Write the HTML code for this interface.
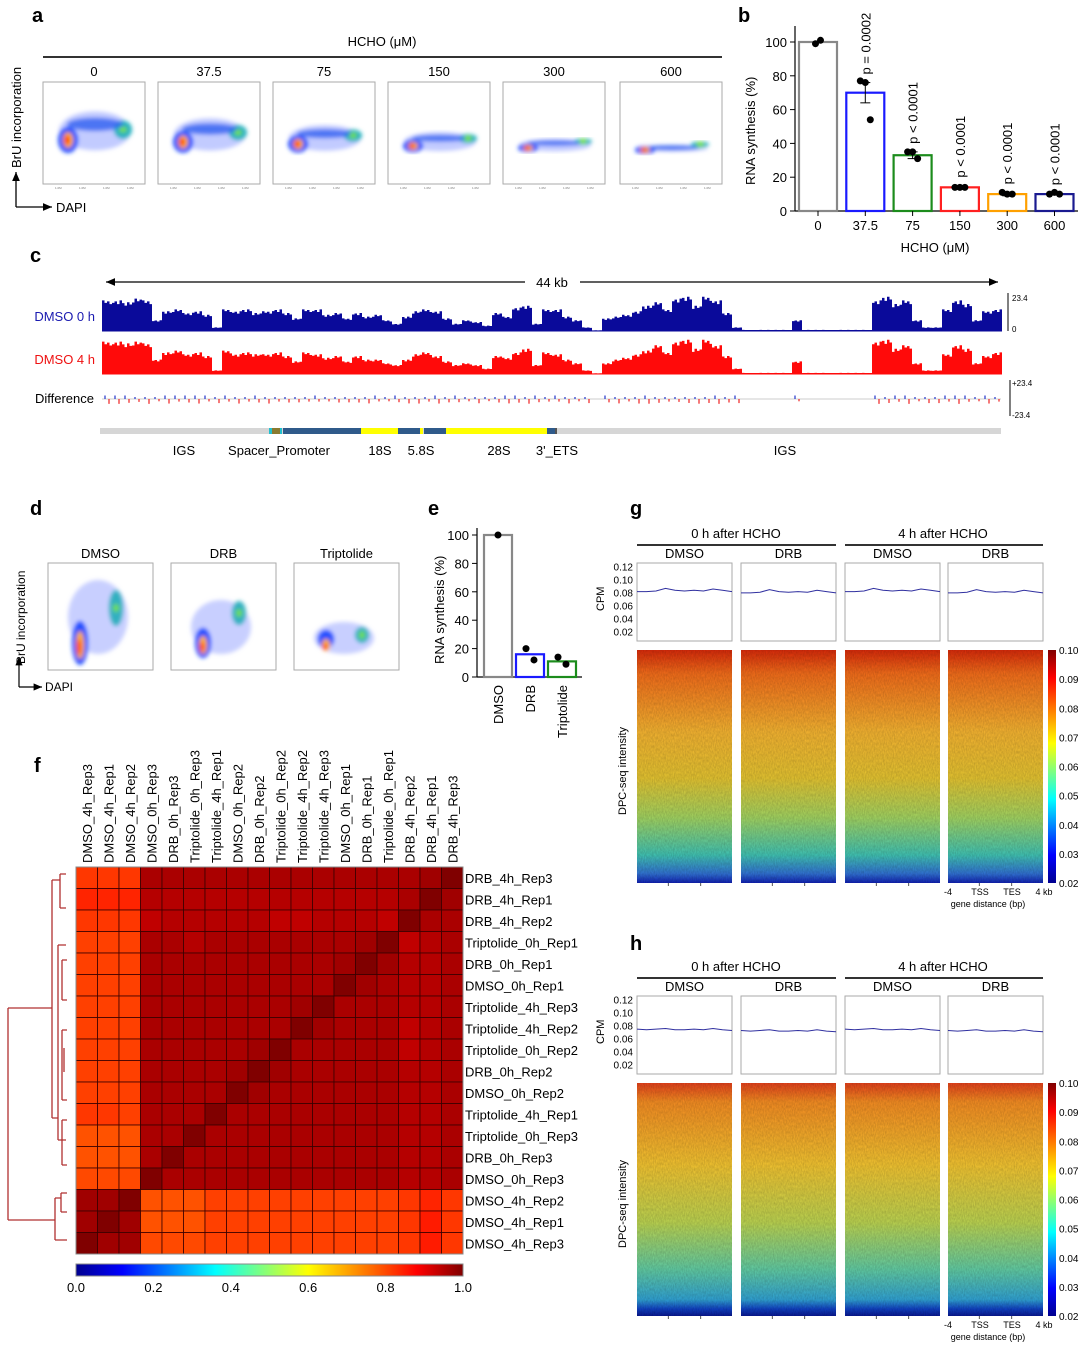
<!DOCTYPE html>
<html><head><meta charset="utf-8"><style>
body{margin:0;background:#fff;}
svg{display:block;font-family:"Liberation Sans",Arial,sans-serif;}
</style></head><body>
<svg id="fig" width="1080" height="1346" viewBox="0 0 1080 1346" xmlns="http://www.w3.org/2000/svg">
<defs>
<linearGradient id="jetH" x1="0" x2="1" y1="0" y2="0">
<stop offset="0" stop-color="#00008f"/><stop offset="0.12" stop-color="#0000ff"/><stop offset="0.36" stop-color="#00ffff"/><stop offset="0.6" stop-color="#ffff00"/><stop offset="0.88" stop-color="#ff0000"/><stop offset="1" stop-color="#800000"/>
</linearGradient>
<linearGradient id="jetV" x1="0" x2="0" y1="1" y2="0">
<stop offset="0" stop-color="#00008f"/><stop offset="0.12" stop-color="#0000ff"/><stop offset="0.36" stop-color="#00ffff"/><stop offset="0.6" stop-color="#ffff00"/><stop offset="0.88" stop-color="#ff0000"/><stop offset="1" stop-color="#800000"/>
</linearGradient>
<linearGradient id="hmG" x1="0" x2="0" y1="0" y2="1">
<stop offset="0" stop-color="#d42a0a"/><stop offset="0.1" stop-color="#ee6a1a"/><stop offset="0.35" stop-color="#f0b030"/><stop offset="0.55" stop-color="#e0c030"/><stop offset="0.72" stop-color="#9fd060"/><stop offset="0.88" stop-color="#40c0b0"/><stop offset="0.96" stop-color="#3070d0"/><stop offset="1" stop-color="#1020b0"/>
</linearGradient>
<linearGradient id="hmH" x1="0" x2="0" y1="0" y2="1">
<stop offset="0" stop-color="#e0401a"/><stop offset="0.08" stop-color="#f08a22"/><stop offset="0.35" stop-color="#eec030"/><stop offset="0.6" stop-color="#b8d050"/><stop offset="0.8" stop-color="#60c8a0"/><stop offset="0.93" stop-color="#30a0d0"/><stop offset="0.97" stop-color="#1040c0"/><stop offset="1" stop-color="#0a1890"/>
</linearGradient>
<filter id="noise" x="0" y="0" width="100%" height="100%">
<feTurbulence type="fractalNoise" baseFrequency="0.9 0.35" numOctaves="2" seed="3"/>
<feColorMatrix type="matrix" values="0 0 0 0 0  0 0 0 0 0  0 0 0 0 0  0 0 0 0.5 -0.1"/>
<feComposite operator="in" in2="SourceGraphic"/>
</filter>
<filter id="blur2"><feGaussianBlur stdDeviation="2.2"/></filter>
<marker id="arr" markerWidth="8" markerHeight="8" refX="7" refY="4" orient="auto"><path d="M0,1 L7,4 L0,7 z" fill="#000"/></marker>
<marker id="arrL" markerWidth="8" markerHeight="8" refX="1" refY="4" orient="auto"><path d="M8,1 L1,4 L8,7 z" fill="#000"/></marker>
</defs>
<g id="root"></g>
</svg>
<script>
// ---------- data ----------
const concA=["0","37.5","75","150","300","600"];
const synthB=[100,70,33,14,10,10];
const errB=[0,6,2,1,1,0.5];
const dotsB=[[99,101],[77,76,54],[35,35,31],[14,14,14],[11,10,10],[10,11,10]];
const pvalB=["","p = 0.0002","p < 0.0001","p < 0.0001","p < 0.0001","p < 0.0001"];
const colorsB=["#888","#1a1aff","#1c8c1c","#ff2020","#ffa000","#1a1a90"];
const bTicks=[0,20,40,60,80,100];
const covBlue=[0.85,0.85,0.8,0.9,0.85,0.3,0.55,0.6,0.5,0.55,0.45,0.1,0.6,0.55,0.6,0.5,0.55,0.6,0.5,0.35,0.6,0.6,0.45,0.5,0.35,0.5,0.4,0.45,0.3,0.2,0.4,0.55,0.6,0.55,0.35,0.2,0.3,0.25,0.15,0.5,0.4,0.65,0.7,0.2,0.6,0.6,0.4,0.3,0.1,0.02,0.35,0.4,0.45,0.55,0.7,0.8,0.6,0.9,0.95,0.7,0.95,0.85,0.5,0.1,0.03,0.03,0.03,0.03,0.03,0.3,0.03,0.03,0.03,0.03,0.03,0.03,0.03,0.85,0.95,0.75,0.85,0.3,0.1,0.1,0.6,0.85,0.75,0.3,0.55,0.6];
const covRed=[0.9,0.9,0.85,0.9,0.85,0.4,0.6,0.65,0.55,0.6,0.5,0.1,0.65,0.55,0.6,0.55,0.55,0.6,0.5,0.35,0.6,0.55,0.45,0.5,0.35,0.5,0.4,0.4,0.3,0.25,0.4,0.55,0.6,0.5,0.35,0.25,0.3,0.25,0.15,0.5,0.45,0.6,0.7,0.25,0.6,0.55,0.4,0.3,0.1,0.02,0.3,0.4,0.45,0.55,0.65,0.8,0.6,0.9,0.95,0.7,0.95,0.8,0.5,0.15,0.03,0.03,0.03,0.03,0.03,0.35,0.03,0.03,0.03,0.03,0.03,0.03,0.03,0.9,0.95,0.7,0.8,0.3,0.1,0.1,0.55,0.8,0.7,0.3,0.5,0.6];
const genes=[["IGS",184],["Spacer_Promoter",279],["18S",380],["5.8S",421],["28S",499],["3'_ETS",557],["IGS",785]];
const condD=["DMSO","DRB","Triptolide"];
const synthE=[100,16,11];
const dotsE=[[100],[20,12],[14,9]];
const colorsE=["#888","#1a1aff","#1c8c1c"];
const labelsF=["DMSO_4h_Rep3","DMSO_4h_Rep1","DMSO_4h_Rep2","DMSO_0h_Rep3","DRB_0h_Rep3","Triptolide_0h_Rep3","Triptolide_4h_Rep1","DMSO_0h_Rep2","DRB_0h_Rep2","Triptolide_0h_Rep2","Triptolide_4h_Rep2","Triptolide_4h_Rep3","DMSO_0h_Rep1","DRB_0h_Rep1","Triptolide_0h_Rep1","DRB_4h_Rep2","DRB_4h_Rep1","DRB_4h_Rep3"];
// correlation rows (row i = labelsF[17-i] from top), columns in labelsF order
const corrRows=[
[0.82,0.82,0.82,0.96,0.96,0.96,0.96,0.96,0.96,0.96,0.96,0.96,0.96,0.96,0.96,0.96,0.97,1.0],
[0.84,0.84,0.84,0.95,0.95,0.95,0.95,0.95,0.95,0.95,0.95,0.95,0.95,0.95,0.95,0.96,1.0,0.97],
[0.82,0.82,0.82,0.94,0.95,0.95,0.95,0.95,0.95,0.94,0.94,0.95,0.95,0.95,0.94,1.0,0.96,0.96],
[0.81,0.81,0.81,0.96,0.96,0.95,0.96,0.96,0.96,0.96,0.96,0.96,0.96,0.97,1.0,0.94,0.95,0.96],
[0.81,0.81,0.81,0.96,0.96,0.96,0.96,0.96,0.96,0.96,0.96,0.96,0.97,1.0,0.97,0.95,0.95,0.96],
[0.81,0.81,0.81,0.96,0.96,0.96,0.96,0.96,0.96,0.96,0.96,0.96,1.0,0.97,0.96,0.95,0.95,0.96],
[0.81,0.81,0.81,0.96,0.96,0.96,0.96,0.96,0.96,0.96,0.97,1.0,0.96,0.96,0.96,0.95,0.95,0.96],
[0.81,0.81,0.81,0.96,0.96,0.96,0.96,0.96,0.96,0.96,1.0,0.97,0.96,0.96,0.96,0.94,0.95,0.96],
[0.81,0.81,0.81,0.96,0.96,0.96,0.96,0.96,0.97,1.0,0.96,0.96,0.96,0.96,0.96,0.94,0.95,0.96],
[0.81,0.81,0.81,0.96,0.96,0.96,0.96,0.97,1.0,0.97,0.96,0.96,0.96,0.96,0.96,0.95,0.95,0.96],
[0.81,0.81,0.81,0.96,0.96,0.96,0.96,1.0,0.97,0.96,0.96,0.96,0.96,0.96,0.96,0.95,0.95,0.96],
[0.82,0.82,0.81,0.96,0.96,0.96,1.0,0.96,0.96,0.96,0.96,0.96,0.96,0.96,0.96,0.95,0.95,0.96],
[0.79,0.79,0.79,0.96,0.96,1.0,0.96,0.96,0.96,0.96,0.96,0.96,0.96,0.96,0.96,0.95,0.95,0.96],
[0.79,0.79,0.79,0.96,1.0,0.96,0.96,0.96,0.96,0.96,0.96,0.96,0.96,0.96,0.96,0.95,0.95,0.96],
[0.80,0.80,0.80,1.0,0.96,0.96,0.96,0.96,0.96,0.96,0.96,0.96,0.96,0.96,0.96,0.95,0.95,0.96],
[0.97,0.97,1.0,0.79,0.79,0.79,0.81,0.81,0.81,0.81,0.81,0.81,0.81,0.81,0.81,0.82,0.84,0.82],
[0.97,1.0,0.97,0.79,0.79,0.79,0.81,0.81,0.81,0.81,0.81,0.81,0.81,0.81,0.81,0.82,0.85,0.82],
[1.0,0.97,0.97,0.80,0.80,0.80,0.81,0.81,0.81,0.81,0.81,0.81,0.81,0.81,0.81,0.82,0.85,0.82]];
const cbTicks=[0.0,0.2,0.4,0.6,0.8,1.0];
const cpmTicks=[0.12,0.10,0.08,0.06,0.04,0.02];
const profG=[0.081,0.081,0.082,0.086,0.083,0.082,0.083,0.082,0.085,0.083,0.081];
const profH=[0.074,0.073,0.074,0.075,0.073,0.073,0.074,0.073,0.075,0.073,0.072];
const hmTicks=[0.10,0.09,0.08,0.07,0.06,0.05,0.04,0.03,0.02];

// ---------- helpers ----------
const NS="http://www.w3.org/2000/svg";
const root=document.getElementById('root');
function E(tag,attrs,parent,txt){const e=document.createElementNS(NS,tag);for(const k in attrs)e.setAttribute(k,attrs[k]);if(txt!==undefined)e.textContent=txt;(parent||root).appendChild(e);return e;}
function T(x,y,s,size,extra,parent){const a=Object.assign({x:x,y:y,'font-size':size,fill:'#000'},extra||{});return E('text',a,parent,s);}
function jet(v){const st=[[0,[0,0,143]],[0.12,[0,0,255]],[0.36,[0,255,255]],[0.6,[255,255,0]],[0.88,[255,0,0]],[1,[128,0,0]]];for(let i=1;i<st.length;i++){if(v<=st[i][0]){const t=(v-st[i-1][0])/(st[i][0]-st[i-1][0]);const a=st[i-1][1],b=st[i][1];return `rgb(${Math.round(a[0]+(b[0]-a[0])*t)},${Math.round(a[1]+(b[1]-a[1])*t)},${Math.round(a[2]+(b[2]-a[2])*t)})`;}}return 'rgb(128,0,0)';}

// panel letters
[["a",32,22],["b",738,22],["c",30,262],["d",30,515],["e",428,515],["f",34,772],["g",630,515],["h",630,950]].forEach(p=>{
 const t=T(p[1],p[2],p[0],20,{'font-weight':'bold'});
 
 
});

// ---------- panel a ----------
const gA=E('g',{});  
T(382,46,"HCHO (μM)",13,{'text-anchor':'middle'},gA);
E('line',{x1:43,y1:57,x2:722,y2:57,stroke:'#333','stroke-width':2},gA);
const boxA=[43,158,273,388,503,620];
concA.forEach((c,i)=>{
 const x=boxA[i],w=102,y=82,h=102;
 T(x+w/2,76,c,13,{'text-anchor':'middle'},gA);
 const g=E('g',{},gA);  
 E('rect',{x:x,y:y,width:w,height:h,fill:'#fff',stroke:'#aaa','stroke-width':1},g);
 const f=i/5; const cy=y+58+f*10; const spread=(1-f)*22+4;
 const bl=E('g',{filter:'url(#blur2)'},g);
 E('ellipse',{cx:x+52,cy:cy-spread*0.35,rx:36,ry:spread*0.75,fill:'#9aa8ff',opacity:0.6},bl);
 E('ellipse',{cx:x+25,cy:cy,rx:10,ry:Math.max(4,spread*0.5),fill:'#2050ff'},bl);
 E('ellipse',{cx:x+80,cy:cy-spread*0.4-4*f,rx:9,ry:Math.max(3,spread*0.35),fill:'#20b0c0'},bl);
 E('ellipse',{cx:x+52,cy:cy-spread*0.6,rx:28,ry:Math.max(2.5,spread*0.25),fill:'#3060f0',opacity:0.8},bl);
 E('ellipse',{cx:x+25,cy:cy,rx:5,ry:Math.max(3,spread*0.3),fill:'#ffb000'},bl);
 E('ellipse',{cx:x+24,cy:cy,rx:2.5,ry:Math.max(2,spread*0.18),fill:'#ff2000'},bl);
 E('ellipse',{cx:x+80,cy:cy-spread*0.4-4*f,rx:4,ry:3,fill:'#70e040'},bl);
 for(let k=0;k<4;k++)T(x+12+k*24,y+h+5,"1.0M",3,{fill:'#777'},g);
});
E('line',{x1:16,y1:207,x2:16,y2:172,stroke:'#000','stroke-width':1.3,'marker-end':'url(#arr)'},gA);
E('line',{x1:16,y1:207,x2:52,y2:207,stroke:'#000','stroke-width':1.3,'marker-end':'url(#arr)'},gA);
T(56,212,"DAPI",13,{},gA);
T(0,0,"BrU incorporation",13,{transform:'translate(21,168) rotate(-90)'},gA);

// ---------- panel b ----------
const gB=E('g',{});  
const bx0=795,by0=211,by100=42;
const byS=v=>by0-(by0-by100)*v/100;
const bxC=i=>818+i*47.3;
E('line',{x1:bx0,y1:26,x2:bx0,y2:by0,stroke:'#000','stroke-width':1.2},gB);
E('line',{x1:bx0,y1:by0,x2:1078,y2:by0,stroke:'#000','stroke-width':1.2},gB);
bTicks.forEach(t=>{E('line',{x1:bx0-5,y1:byS(t),x2:bx0,y2:byS(t),stroke:'#000'},gB);T(bx0-8,byS(t)+5,String(t),13,{'text-anchor':'end'},gB);});
T(0,0,"RNA synthesis (%)",13,{transform:'translate(755,185) rotate(-90)'},gB);
concA.forEach((c,i)=>{
 const cx=bxC(i);
 const r=E('rect',{x:cx-19,y:byS(synthB[i]),width:38,height:by0-byS(synthB[i]),fill:'#fff',stroke:colorsB[i],'stroke-width':2.2},gB);
  
 if(errB[i]>0){E('line',{x1:cx,y1:byS(synthB[i]+errB[i]),x2:cx,y2:byS(synthB[i]-errB[i]),stroke:'#000'},gB);
  E('line',{x1:cx-5,y1:byS(synthB[i]+errB[i]),x2:cx+5,y2:byS(synthB[i]+errB[i]),stroke:'#000'},gB);
  E('line',{x1:cx-5,y1:byS(synthB[i]-errB[i]),x2:cx+5,y2:byS(synthB[i]-errB[i]),stroke:'#000'},gB);}
 dotsB[i].forEach((d,k)=>E('circle',{cx:cx+(k-(dotsB[i].length-1)/2)*5,cy:byS(d),r:3.5,fill:'#000'},gB));
 E('line',{x1:cx,y1:by0,x2:cx,y2:by0+5,stroke:'#000'},gB);
 T(cx,by0+19,c,13,{'text-anchor':'middle'},gB);
 if(pvalB[i])T(0,0,pvalB[i],13,{transform:`translate(${cx+5},${byS(synthB[i]+errB[i])-8}) rotate(-90)`},gB);
});
T(935,252,"HCHO (μM)",13,{'text-anchor':'middle'},gB);

// ---------- panel c ----------
const gC=E('g',{});  
E('line',{x1:106,y1:282,x2:525,y2:282,stroke:'#000','stroke-width':1.3,'marker-start':'url(#arrL)'},gC);
E('line',{x1:580,y1:282,x2:998,y2:282,stroke:'#000','stroke-width':1.3,'marker-end':'url(#arr)'},gC);
T(552,287,"44 kb",13,{'text-anchor':'middle'},gC);
const cx0=102,cW=900/covBlue.length;
function track(data,base,h,col,name){
 let d=`M${cx0},${base}`;
 data.forEach((v,i)=>{const x=cx0+i*cW;const hh=v*h;const wig=[1,0.92,0.97,0.88];
  for(let k=0;k<4;k++){d+=` L${x+k*cW/4},${base-hh*wig[(i+k)%4]} L${x+(k+1)*cW/4},${base-hh*wig[(i+k)%4]}`;}});
 d+=` L${cx0+900},${base} Z`;
 const p=E('path',{d:d,fill:col},gC);  
 E('line',{x1:cx0,y1:base,x2:cx0+900,y2:base,stroke:col,'stroke-width':1},gC);
}
track(covBlue,331,36,'#0a0a9a','track-dmso-0h');
track(covRed,374,36,'#ff0a0a','track-dmso-4h');
T(95,321,"DMSO 0 h",13,{'text-anchor':'end',fill:'#1a1ab0'},gC);
T(95,364,"DMSO 4 h",13,{'text-anchor':'end',fill:'#ee1111'},gC);
T(94,403,"Difference",13,{'text-anchor':'end'},gC);
E('line',{x1:1008,y1:293,x2:1008,y2:331,stroke:'#000'},gC);
T(1012,301,"23.4",8,{},gC);T(1012,332,"0",8,{},gC);
E('line',{x1:102,y1:399,x2:1001,y2:399,stroke:'#ccc','stroke-width':1},gC);
covBlue.forEach((v,i)=>{const dv=covRed[i]-v;const x=cx0+i*cW+cW/2;
 if(v>0.05){E('line',{x1:x-2,y1:399,x2:x-2,y2:397-3*Math.abs(dv*10%1),stroke:'#2233cc','stroke-width':1.2},gC);
 E('line',{x1:x+2,y1:399,x2:x+2,y2:401+3*Math.abs(v*7%1),stroke:'#ee2222','stroke-width':1.2},gC);}});
E('line',{x1:1010,y1:380,x2:1010,y2:416,stroke:'#000'},gC);
T(1012,386,"+23.4",8,{},gC);T(1012,418,"-23.4",8,{},gC);
E('rect',{x:100,y:428,width:901,height:6,fill:'#d6d6d6'},gC);
[[269,4,'#20c0d0'],[272,8,'#8a7a30'],[280,2,'#20c0d0'],[283,78,'#2f5a8a'],[361,37,'#ffff00'],[398,23,'#2f5a8a'],[420,3,'#ffff00'],[424,22,'#2f5a8a'],[446,101,'#ffff00'],[547,8,'#2f5a8a'],[555,2,'#555']].forEach(s=>E('rect',{x:s[0],y:428,width:s[1],height:6,fill:s[2]},gC));
genes.forEach(g=>{const t=T(g[1],455,g[0],13,{'text-anchor':'middle'},gC);});

// ---------- panel d ----------
const gD=E('g',{});  
const boxD=[48,171,294];
condD.forEach((c,i)=>{
 const x=boxD[i],y=563,w=105,h=107;
 T(x+w/2,558,c,13,{'text-anchor':'middle'},gD);
 const g=E('g',{},gD);  
 E('rect',{x:x,y:y,width:w,height:h,fill:'#fff',stroke:'#aaa'},g);
 const bl=E('g',{filter:'url(#blur2)'},g);
 const top=[y+18,y+38,y+60][i];
 E('ellipse',{cx:x+50,cy:(top+y+90)/2,rx:30,ry:(y+92-top)/2,fill:'#9aa8ff',opacity:0.55},bl);
 E('ellipse',{cx:x+32,cy:y+80-(i==2?4:0),rx:8,ry:[22,15,9][i],fill:'#2050ff'},bl);
 E('ellipse',{cx:x+68,cy:[y+45,y+50,y+72][i],rx:7,ry:[18,12,8][i],fill:'#30b0c0'},bl);
 E('ellipse',{cx:x+32,cy:y+82,rx:4,ry:[14,9,6][i],fill:'#ffb000'},bl);
 E('ellipse',{cx:x+31,cy:y+84,rx:2,ry:[8,5,3][i],fill:'#ff2000'},bl);
 E('ellipse',{cx:x+68,cy:[y+45,y+50,y+72][i],rx:3,ry:4,fill:'#70e040'},bl);
});
E('line',{x1:19,y1:687,x2:19,y2:657,stroke:'#000','stroke-width':1.2,'marker-end':'url(#arr)'},gD);
E('line',{x1:19,y1:687,x2:42,y2:687,stroke:'#000','stroke-width':1.2,'marker-end':'url(#arr)'},gD);
T(45,691,"DAPI",12,{},gD);
T(0,0,"BrU incorporation",12,{transform:'translate(25,664) rotate(-90)'},gD);

// ---------- panel e ----------
const gE=E('g',{});  
const ex0=477,ey0=677,ey100=535;const eyS=v=>ey0-(ey0-ey100)*v/100;const exC=i=>498+i*32;
E('line',{x1:ex0,y1:528,x2:ex0,y2:ey0,stroke:'#000','stroke-width':1.2},gE);
E('line',{x1:ex0,y1:ey0,x2:582,y2:ey0,stroke:'#000','stroke-width':1.2},gE);
bTicks.forEach(t=>{E('line',{x1:ex0-5,y1:eyS(t),x2:ex0,y2:eyS(t),stroke:'#000'},gE);T(ex0-8,eyS(t)+5,String(t),13,{'text-anchor':'end'},gE);});
T(0,0,"RNA synthesis (%)",13,{transform:'translate(444,664) rotate(-90)'},gE);
condD.forEach((c,i)=>{const cx=exC(i);
 const r=E('rect',{x:cx-14,y:eyS(synthE[i]),width:28,height:ey0-eyS(synthE[i]),fill:'#fff',stroke:colorsE[i],'stroke-width':2.2},gE);
  
 dotsE[i].forEach((d,k)=>E('circle',{cx:cx+(k-(dotsE[i].length-1)/2)*8,cy:eyS(d),r:3.5,fill:'#000'},gE));
 T(0,0,c,13,{'text-anchor':'end',transform:`translate(${cx+5},${ey0+8}) rotate(-90)`},gE);});

// ---------- panel f ----------
const gF=E('g',{});  
const fx0=76,fy0=867,fS=387/18;
corrRows.forEach((row,r)=>row.forEach((v,c)=>{
 const cell=E('rect',{x:fx0+c*fS,y:fy0+r*fS,width:fS,height:fS,fill:jet(v),stroke:'#3a0000','stroke-width':0.8},gF);
  
}));
E('rect',{x:fx0,y:fy0,width:387,height:387,fill:'none',stroke:'#888'},gF);
labelsF.forEach((l,i)=>{
 T(0,0,l,13,{transform:`translate(${fx0+i*fS+fS/2+5},${fy0-4}) rotate(-90)`},gF);
 T(fx0+389,fy0+i*fS+fS/2+5,labelsF[17-i],13,{},gF);
});
const dg=E('path',{d:'M8,1008 L8,1220 M8,1008 L52,1008 M8,1220 L55,1220 M52,880 L52,1118 M52,880 L60,880 M60,874 L60,908 M60,874 L66,874 M60,908 L66,908 M52,1118 L58,1118 M58,945 L58,1140 M58,945 L66,945 M58,1140 L66,1140 M55,1198 L55,1240 M55,1198 L61,1198 M61,1193 L61,1212 M61,1193 L67,1193 M61,1212 L67,1212 M55,1240 L67,1240 M62,960 L62,1000 M62,1030 L62,1100 M62,1120 L62,1165 M62,960 L67,960 M62,1000 L67,1000 M62,1030 L67,1030 M62,1100 L67,1100 M62,1120 L67,1120 M62,1165 L67,1165 M64,1048 L64,1072',fill:'none',stroke:'#b03030','stroke-width':1.3},gF);
 
const cb=E('rect',{x:76,y:1264,width:387,height:12,fill:'url(#jetH)',stroke:'#888'},gF);
 
cbTicks.forEach(t=>T(76+387*t,1292,t.toFixed(1),13,{'text-anchor':'middle'},gF));

// ---------- panels g & h ----------
function metaPanel(yTop,prof,grad,key){
 const g=E('g',{});  
 const xs=[637,741,845,948],w=95;
 T(736,yTop+5,"0 h after HCHO",13,{'text-anchor':'middle'},g);
 T(943,yTop+5,"4 h after HCHO",13,{'text-anchor':'middle'},g);
 E('line',{x1:637,y1:yTop+12,x2:836,y2:yTop+12,stroke:'#333','stroke-width':2},g);
 E('line',{x1:845,y1:yTop+12,x2:1043,y2:yTop+12,stroke:'#333','stroke-width':2},g);
 const pT=yTop+30,pH=78,hT=yTop+117,hH=233;
 const cy=v=>pT+ (0.125-v)/0.12*pH;
 ["DMSO","DRB","DMSO","DRB"].forEach((n,i)=>{
  const x=xs[i];
  T(x+w/2,yTop+25,n,13,{'text-anchor':'middle'},g);
  E('rect',{x:x,y:pT,width:w,height:pH,fill:'#fff',stroke:'#aaa'},g);
  let d='';prof.forEach((v,k)=>{d+=(k?'L':'M')+(x+k*w/(prof.length-1))+','+cy(v+(i%2?-0.002:0));});
  const ln=E('path',{d:d,fill:'none',stroke:'#3030a0','stroke-width':1},g);
   
  const hm=E('rect',{x:x,y:hT,width:w,height:hH,fill:`url(#${grad})`},g);
   
  E('rect',{x:x,y:hT,width:w,height:hH,fill:'#000',filter:'url(#noise)',opacity:0.5},g);
  [0.33,0.67].forEach(f=>E('line',{x1:x+w*f,y1:hT+hH,x2:x+w*f,y2:hT+hH+3,stroke:'#555'},g));
 });
 cpmTicks.forEach(t=>T(633,cy(t)+4,t.toFixed(2),10,{'text-anchor':'end'},g));
 T(0,0,"CPM",11,{transform:`translate(604,${pT+48}) rotate(-90)`},g);
 T(0,0,"DPC-seq intensity",11,{transform:`translate(626,${hT+165}) rotate(-90)`},g);
 E('rect',{x:1048,y:hT,width:8,height:hH,fill:'url(#jetV)'},g);
 hmTicks.forEach((t,k)=>T(1059,hT+4+k*hH/8,t.toFixed(2),10,{},g));
 T(948,hT+hH+12,"-4",9,{'text-anchor':'middle'},g);
 T(980,hT+hH+12,"TSS",9,{'text-anchor':'middle'},g);
 T(1012,hT+hH+12,"TES",9,{'text-anchor':'middle'},g);
 T(1044,hT+hH+12,"4 kb",9,{'text-anchor':'middle'},g);
 T(988,hT+hH+24,"gene distance (bp)",9,{'text-anchor':'middle'},g);
}
metaPanel(533,profG,'hmG','g');
metaPanel(966,profH,'hmH','h');
</script>
</body></html>
